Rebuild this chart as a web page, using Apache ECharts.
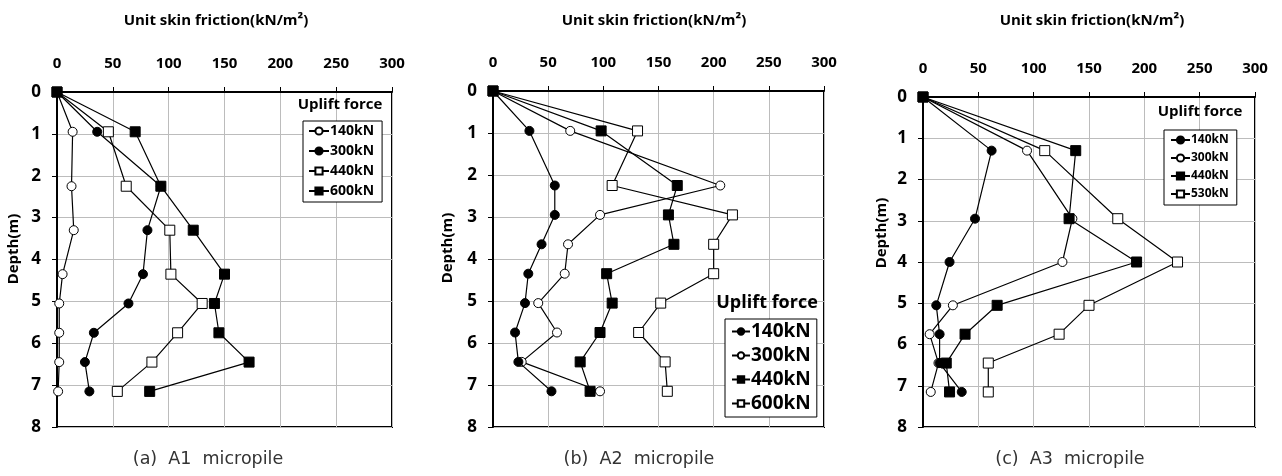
<!DOCTYPE html>
<html>
<head>
<meta charset="utf-8">
<script src="https://cdn.jsdelivr.net/npm/echarts@6/dist/echarts.min.js"></script>
<style>
  html, body { margin: 0; padding: 0; background: #fff; }
  #chart { width: 1282px; height: 476px; }
</style>
</head>
<body>
<div id="chart"></div>
<script>
// Axis ticks
const frictionTicks = [0, 50, 100, 150, 200, 250, 300];
const depthTicks = [0, 1, 2, 3, 4, 5, 6, 7, 8];

// A1 micropile: depth (m) of each measuring point and unit skin friction (kN/m2)
const depthA = [0, 0.95, 2.25, 3.3, 4.35, 5.05, 5.75, 6.45, 7.15];
const a140 = [0, 14, 13, 15, 5, 2, 2, 2, 1];
const a300 = [0, 36, 93, 81, 77, 64, 33, 25, 29];
const a440 = [0, 46, 62, 101, 102, 130, 108, 85, 54];
const a600 = [0, 70, 93, 122, 150, 141, 145, 172, 83];

// A2 micropile
const depthB = [0, 0.95, 2.25, 2.95, 3.65, 4.35, 5.05, 5.75, 6.45, 7.15];
const b140 = [0, 33, 56, 56, 44, 32, 29, 20, 23, 53];
const b300 = [0, 70, 206, 97, 68, 65, 41, 58, 26, 97];
const b440 = [0, 98, 167, 159, 164, 103, 108, 97, 79, 88];
const b600 = [0, 131, 108, 217, 200, 200, 152, 132, 156, 158];

// A3 micropile
const depthC = [0, 1.3, 2.95, 4.0, 5.05, 5.75, 6.45, 7.15];
const c140 = [0, 62, 47, 24, 12, 15, 15, 35];
const c300 = [0, 94, 135, 126, 27, 6, 14, 7];
const c440 = [0, 138, 132, 193, 67, 38, 21, 24];
const c530 = [0, 110, 176, 230, 150, 123, 59, 59];

const panelTitle = 'Unit skin friction(kN/m²)';
const legendTitle = 'Uplift force';
const captions = ['(a)  A1  micropile', '(b)  A2  micropile', '(c)  A3  micropile'];

const boldFont = '"Open Sans", Lato, sans-serif';

// Plot frames of the three panels (px)
const grids = [
  { left: 57, top: 92, width: 335, height: 335 },
  { left: 493, top: 91, width: 331, height: 336 },
  { left: 923, top: 97, width: 332, height: 330 }
];

function pairs(xs, ds) { return xs.map((v, i) => [v, ds[i]]); }

function makeSeries(id, label, xs, ds, grid, shape, filled) {
  const isCircle = shape === 'circle';
  return {
    type: 'line',
    name: id + '|' + label,
    xAxisIndex: grid, yAxisIndex: grid,
    data: pairs(xs, ds),
    symbol: isCircle ? 'circle' : 'rect',
    symbolSize: isCircle ? 9 : 10,
    showSymbol: true,
    animation: false,
    lineStyle: { color: '#000', width: 1.2 },
    itemStyle: { color: filled ? '#000' : '#fff', borderColor: '#000', borderWidth: 1 },
    emphasis: { disabled: true },
    z: filled ? 3 : 2
  };
}

const series = [
  makeSeries('a', '140kN', a140, depthA, 0, 'circle', false),
  makeSeries('a', '300kN', a300, depthA, 0, 'circle', true),
  makeSeries('a', '440kN', a440, depthA, 0, 'rect', false),
  makeSeries('a', '600kN', a600, depthA, 0, 'rect', true),
  makeSeries('b', '140kN', b140, depthB, 1, 'circle', true),
  makeSeries('b', '300kN', b300, depthB, 1, 'circle', false),
  makeSeries('b', '440kN', b440, depthB, 1, 'rect', true),
  makeSeries('b', '600kN', b600, depthB, 1, 'rect', false),
  makeSeries('c', '140kN', c140, depthC, 2, 'circle', true),
  makeSeries('c', '300kN', c300, depthC, 2, 'circle', false),
  makeSeries('c', '440kN', c440, depthC, 2, 'rect', true),
  makeSeries('c', '530kN', c530, depthC, 2, 'rect', false)
];

const xAxes = grids.map((g, i) => ({
  type: 'value', gridIndex: i, position: 'top',
  min: frictionTicks[0], max: frictionTicks[frictionTicks.length - 1], interval: 50,
  axisLine: { show: true, onZero: false, lineStyle: { color: '#000', width: 2 } },
  axisTick: { show: true, length: 5, lineStyle: { color: '#000', width: 1 } },
  axisLabel: { margin: 21, fontFamily: boldFont, fontWeight: 'bold', fontSize: 15, color: '#000' },
  splitLine: { show: true, lineStyle: { color: '#bcbcbc', width: 1 } }
}));

const yAxes = grids.map((g, i) => ({
  type: 'value', gridIndex: i, inverse: true,
  min: depthTicks[0], max: depthTicks[depthTicks.length - 1], interval: 1,
  axisLine: { show: true, onZero: false, lineStyle: { color: '#000', width: 2 } },
  axisTick: { show: true, length: 5, lineStyle: { color: '#000', width: 1 } },
  axisLabel: { margin: 16, fontFamily: boldFont, fontWeight: 'bold', fontSize: 17, color: '#000' },
  splitLine: { show: true, lineStyle: { color: '#bcbcbc', width: 1 } }
}));

function legendFor(prefix, names, pos, fontSize, itemW, itemH, gap, padding) {
  return {
    orient: 'vertical',
    left: pos[0], top: pos[1],
    data: names.map(n => prefix + '|' + n),
    formatter: name => name.split('|')[1],
    itemWidth: itemW, itemHeight: itemH, itemGap: gap,
    padding: padding,
    borderColor: '#000', borderWidth: 1, backgroundColor: '#fff',
    selectedMode: false,
    textStyle: { fontFamily: boldFont, fontWeight: 'bold', fontSize: fontSize, color: '#000', padding: [0, 0, 0, -4] }
  };
}

const legends = [
  legendFor('a', ['140kN', '300kN', '440kN', '600kN'], [303, 121], 14, 20, 9, 6, [3, 8, 4, 5]),
  legendFor('b', ['140kN', '300kN', '440kN', '600kN'], [725, 319], 19, 18, 8, 5, [3, 6, 4, 6]),
  legendFor('c', ['140kN', '300kN', '440kN', '530kN'], [1164, 130], 12, 19, 9, 6, [4, 8, 5, 6])
];

const titles = [
  { text: panelTitle, left: 216, top: 13, fs: 15 },
  { text: panelTitle, left: 654, top: 13, fs: 15 },
  { text: panelTitle, left: 1092, top: 13, fs: 15 },
  { text: legendTitle, left: 340, top: 97, fs: 15 },
  { text: legendTitle, left: 767, top: 294, fs: 18 },
  { text: legendTitle, left: 1200, top: 104, fs: 15 }
].map(t => ({
  text: t.text, left: t.left, top: t.top, textAlign: 'center', padding: 0,
  textStyle: { fontFamily: boldFont, fontWeight: 'bold', fontSize: t.fs, color: '#000' }
})).concat([208, 639, 1070].map((x, i) => ({
  text: captions[i], left: x, top: 450, textAlign: 'center', padding: 0,
  textStyle: { fontFamily: '"DejaVu Sans", sans-serif', fontWeight: 'normal', fontSize: 17.5, color: '#333' }
})));

// Rotated depth labels beside each vertical axis
const depthLabels = [[14, 249], [448, 248], [882, 233]].map(p => ({
  type: 'text', x: p[0], y: p[1], rotation: Math.PI / 2,
  style: { text: 'Depth(m)', font: 'bold 15px ' + boldFont, fill: '#000', align: 'center', verticalAlign: 'middle' }
}));

const chart = echarts.init(document.getElementById('chart'), null, { renderer: 'canvas' });
chart.setOption({
  animation: false,
  backgroundColor: '#fff',
  title: titles,
  grid: grids.map(g => Object.assign({ show: true, borderColor: '#000', borderWidth: 2, backgroundColor: 'transparent' }, g)),
  xAxis: xAxes,
  yAxis: yAxes,
  legend: legends,
  series: series,
  graphic: depthLabels
});
</script>
</body>
</html>
